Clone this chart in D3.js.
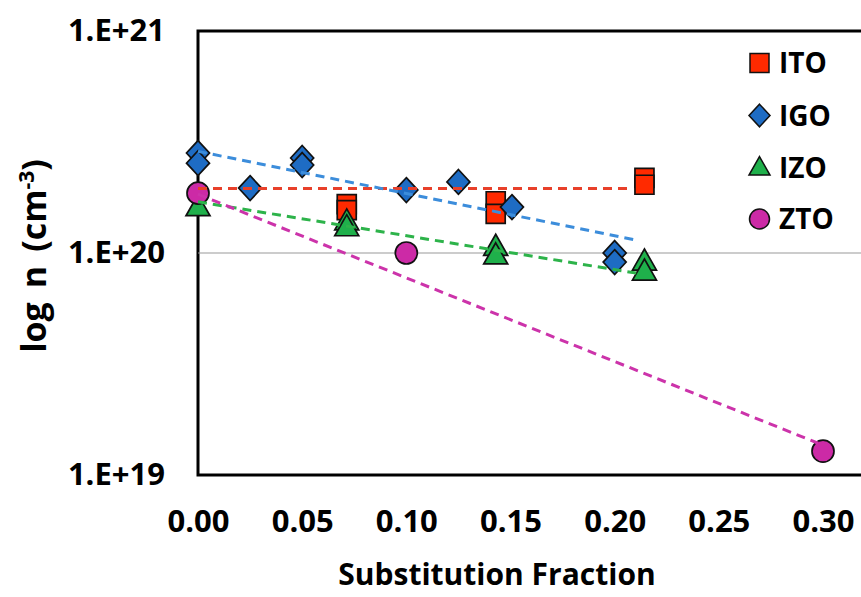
<!DOCTYPE html>
<html lang="en">
<head>
<meta charset="UTF-8">
<title>log n vs Substitution Fraction</title>
<script src="https://d3js.org/d3.v7.min.js"></script>
<style>
body { margin: 0; background: #fff; }
svg { display: block; }
text { font-family: "Open Sans", sans-serif; font-weight: 700; fill: #000; }
</style>
</head>
<body>
<svg id="chart" width="861" height="597"></svg>
<script>
// series values (x = substitution fraction, n in cm^-3)
const seriesNames = ['ITO', 'IGO', 'IZO', 'ZTO'];
const itoX = [0.0714, 0.0714, 0.1429, 0.1429, 0.2143, 0.2143];
const itoN = [1.66e20, 1.56e20, 1.71e20, 1.50e20, 2.18e20, 2.03e20];
const igoX = [0, 0, 0.025, 0.05, 0.05, 0.10, 0.125, 0.1507, 0.20, 0.20];
const igoN = [2.82e20, 2.54e20, 1.96e20, 2.68e20, 2.49e20, 1.92e20, 2.09e20, 1.61e20, 1.0e20, 0.91e20];
const izoX = [0, 0.0714, 0.0714, 0.1429, 0.1429, 0.2143, 0.2143];
const izoN = [1.6e20, 1.38e20, 1.30e20, 1.06e20, 0.97e20, 0.91e20, 0.82e20];
const ztoX = [0, 0.10, 0.30];
const ztoN = [1.86e20, 1.0e20, 1.28e19];

// dashed trend lines: start and end of each fit
const trendX = [[0, 0.207], [0, 0.209], [0, 0.211], [0, 0.2977]];
const trendN = [[1.95e20, 1.95e20], [2.87e20, 1.15e20], [1.70e20, 0.81e20], [1.84e20, 1.39e19]];

const xTicks = [0, 0.05, 0.10, 0.15, 0.20, 0.25, 0.30];
const yTicks = [1e19, 1e20, 1e21];
const yTickLabels = ['1.E+19', '1.E+20', '1.E+21'];

const fills = ['#ff2a00', '#1e6cc4', '#1fb04b', '#cc2aa6'];
const dashColors = ['#e8402a', '#3c8ddb', '#2db34a', '#cc33aa'];

const w = 861;
const h = 597;
const plotLeft = 198, plotTop = 31, plotBottom = 475;

const svg = d3.select('#chart');

const xScale = d3.scaleLinear().domain([0, 0.30]).range([plotLeft, 823]);
const yScale = d3.scaleLog().domain([1e19, 1e21]).range([plotBottom, plotTop]);

// marker shapes
function shapePath(kind, s) {
    const p = d3.path();
    if (kind === 0) {
        p.rect(-s / 2, -s / 2, s, s);
    } else if (kind === 1) {
        const a = s / 2;
        p.moveTo(0, -a * 1.08); p.lineTo(a, 0); p.lineTo(0, a * 1.08); p.lineTo(-a, 0); p.closePath();
    } else if (kind === 2) {
        const ht = s * 0.88;
        p.moveTo(0, -ht * 0.62); p.lineTo(s / 2, ht * 0.38); p.lineTo(-s / 2, ht * 0.38); p.closePath();
    } else {
        p.arc(0, 0, s / 2, 0, 2 * Math.PI);
    }
    return p.toString();
}
const markSize = [19, 23, 24, 22];

// frame
svg.append('rect')
    .attr('x', plotLeft).attr('y', plotTop)
    .attr('width', xScale(0.34) - plotLeft).attr('height', plotBottom - plotTop)
    .attr('fill', 'none').attr('stroke', '#000').attr('stroke-width', 3);

// 1E+20 grid line
svg.append('line')
    .attr('x1', plotLeft).attr('x2', w)
    .attr('y1', yScale(1e20)).attr('y2', yScale(1e20))
    .attr('stroke', '#999').attr('stroke-width', 1.2);

// axes (labels only)
const yAxis = d3.axisLeft(yScale).tickValues(yTicks).tickSize(0).tickPadding(33)
    .tickFormat((d, i) => yTickLabels[i]);
const gy = svg.append('g').attr('transform', 'translate(' + plotLeft + ',0)').call(yAxis);
gy.select('.domain').remove();
gy.selectAll('text').style('font-family', '"Open Sans", sans-serif').style('font-weight', 700).style('font-size', '31px');

const xAxis = d3.axisBottom(xScale).tickValues(xTicks).tickSize(0).tickPadding(35)
    .tickFormat(d3.format('.2f'));
const gx = svg.append('g').attr('transform', 'translate(0,' + plotBottom + ')').call(xAxis);
gx.select('.domain').remove();
gx.selectAll('text').style('font-family', '"Open Sans", sans-serif').style('font-weight', 700).style('font-size', '31px');

// data points
const allX = [itoX, igoX, izoX, ztoX];
const allN = [itoN, igoN, izoN, ztoN];
allX.forEach((xs, k) => {
    svg.append('g').selectAll('path')
        .data(xs.map((x, i) => ({ x: x, n: allN[k][i] })))
        .enter().append('path')
        .attr('d', shapePath(k, markSize[k]))
        .attr('transform', d => 'translate(' + xScale(d.x) + ',' + yScale(d.n) + ')')
        .attr('fill', fills[k]).attr('stroke', '#111').attr('stroke-width', 1.7);
});

// trend lines
const line = d3.line().x(d => xScale(d[0])).y(d => yScale(d[1]));
trendX.forEach((xs, k) => {
    svg.append('path')
        .attr('d', line(xs.map((x, i) => [x, trendN[k][i]])))
        .attr('fill', 'none').attr('stroke', dashColors[k])
        .attr('stroke-width', 3).attr('stroke-dasharray', '9,6');
});

// legend
const legendY = [63, 115.5, 168, 219];
const legendSize = [19, 21, 21, 20];
const legend = svg.append('g');
seriesNames.forEach((name, k) => {
    legend.append('path')
        .attr('d', shapePath(k, legendSize[k]))
        .attr('transform', 'translate(759.5,' + legendY[k] + ')')
        .attr('fill', fills[k]).attr('stroke', '#111').attr('stroke-width', 1.5);
    legend.append('text')
        .attr('x', 779).attr('y', legendY[k]).attr('dy', '0.36em')
        .style('font-size', '28px').text(name);
});

// axis titles
svg.append('text')
    .attr('x', 497).attr('y', 585).attr('text-anchor', 'middle')
    .style('font-size', '30px').text('Substitution Fraction');

const yTitle = svg.append('text')
    .attr('transform', 'translate(46,256) rotate(-90)')
    .attr('text-anchor', 'middle').style('font-size', '34px');
yTitle.append('tspan').text('log');
yTitle.append('tspan').attr('dx', 14).text('n');
yTitle.append('tspan').attr('dx', 14).text('(cm');
yTitle.append('tspan').attr('dy', -12).style('font-size', '21px').text('-3');
yTitle.append('tspan').attr('dy', 12).text(')');
</script>
</body>
</html>
